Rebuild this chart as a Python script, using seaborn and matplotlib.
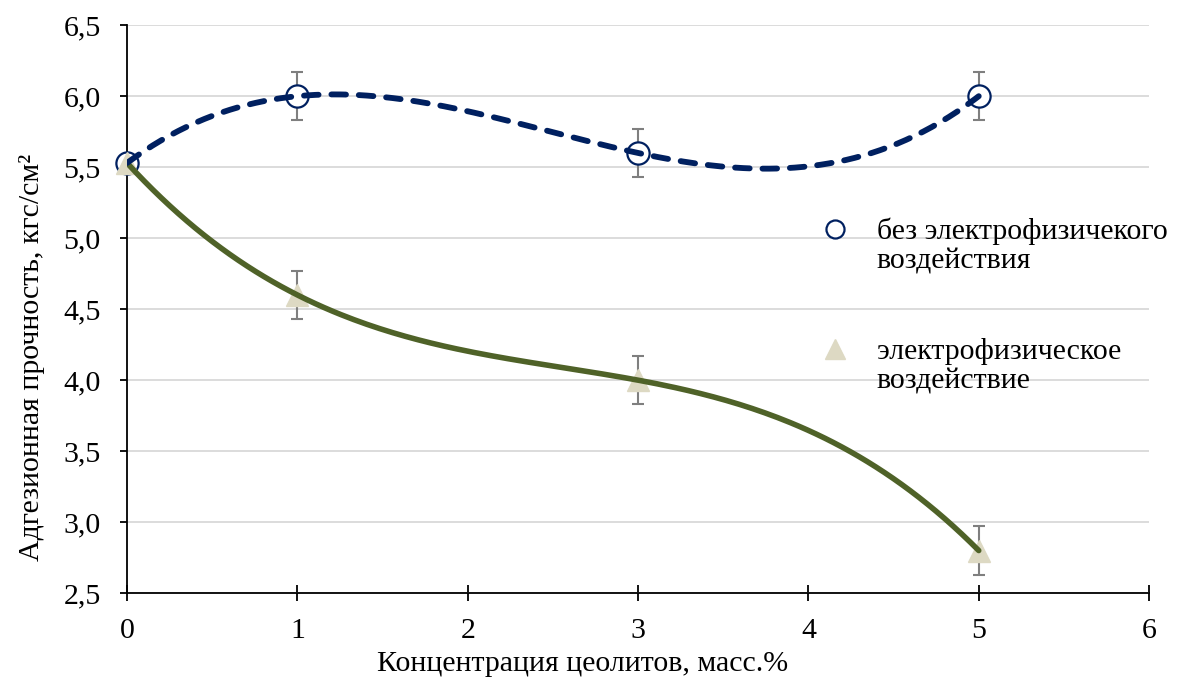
import numpy as np
import pandas as pd
import matplotlib
matplotlib.use('Agg')
import matplotlib.pyplot as plt
import seaborn as sns
from matplotlib.lines import Line2D
from matplotlib.legend_handler import HandlerLine2D
from matplotlib.ticker import FuncFormatter

# Данные
konc = [0, 1, 3, 5]
bez_vozd = [5.53, 6.0, 5.6, 6.0]
s_vozd = [5.53, 4.6, 4.0, 2.8]
oshibka = [0.17, 0.17, 0.17]   # для точек 1, 3, 5 (у нуля планок нет)
nazvaniya = ['без электрофизичекого\nвоздействия', 'электрофизическое\nвоздействие']

sns.set_style('white')
plt.rcParams['font.family'] = ['Liberation Serif', 'DejaVu Serif']
plt.rcParams['text.color'] = 'black'
plt.rcParams['axes.labelcolor'] = 'black'
plt.rcParams['xtick.color'] = 'black'
plt.rcParams['ytick.color'] = 'black'
FS = 21.5

fig = plt.figure(figsize=(11.93, 6.81), dpi=100)
ax = fig.add_axes([0.1065, 0.129, 0.8567, 0.834])

# Линии тренда (полином 3-й степени, как в Excel)
xs = np.linspace(0, 5, 200)
tr1 = np.polyval(np.polyfit(konc, bez_vozd, 3), xs)
tr2 = np.polyval(np.polyfit(konc, s_vozd, 3), xs)
df_tr = pd.DataFrame({'x': np.concatenate([xs, xs]),
                      'y': np.concatenate([tr1, tr2]),
                      'ser': ['a'] * len(xs) + ['b'] * len(xs)})

ax.grid(axis='y', color='#d9d9d9', linewidth=1.3, zorder=0)

# планки погрешностей
ax.errorbar(konc[1:], bez_vozd[1:], yerr=oshibka, fmt='none', ecolor='#7f7f7f',
            elinewidth=1.5, capsize=4.5, capthick=1.5, zorder=2)
ax.errorbar(konc[1:], s_vozd[1:], yerr=oshibka, fmt='none', ecolor='#7f7f7f',
            elinewidth=1.5, capsize=4.5, capthick=1.5, zorder=2)

# маркеры
ax.plot(konc, bez_vozd, linestyle='none', marker='o', markersize=16,
        markerfacecolor='white', markeredgecolor='#002060', markeredgewidth=1.6,
        zorder=3, clip_on=False)
ax.plot(konc, s_vozd, linestyle='none', marker='^', markersize=16.5,
        color='#ddd9c3', markeredgecolor='#ddd9c3', zorder=3, clip_on=False)

sns.lineplot(data=df_tr[df_tr.ser == 'b'], x='x', y='y', color='#4f6228',
             linewidth=4, ax=ax, zorder=4, legend=False)
sns.lineplot(data=df_tr[df_tr.ser == 'a'], x='x', y='y', color='#002060',
             linewidth=4.2, ax=ax, zorder=5, legend=False)
ax.lines[-1].set_dashes([2.5, 2.2])
ax.lines[-1].set_dash_capstyle('round')

ax.set_xlim(0, 6)
ax.set_ylim(2.5, 6.5)
ax.set_xticks(range(0, 7))
ax.set_yticks(np.arange(2.5, 6.51, 0.5))
ax.yaxis.set_major_formatter(FuncFormatter(lambda v, p: f'{v:.1f}'.replace('.', ',')))

for s in ['top', 'right']:
    ax.spines[s].set_visible(False)
for s in ['left', 'bottom']:
    ax.spines[s].set_color('black')
    ax.spines[s].set_linewidth(1.3)

ax.tick_params(axis='y', direction='out', length=5, width=1.3, labelsize=FS, pad=14,
               left=True, colors='black')
ax.tick_params(axis='x', direction='inout', length=12, width=1.3, labelsize=FS, pad=12,
               bottom=True, colors='black')

ax.set_xlabel('Концентрация цеолитов, масс.%', fontsize=FS, color='black')
ax.set_ylabel('Адгезионная прочность, кгс/см²', fontsize=FS, color='black')
ax.xaxis.set_label_coords(0.446, -0.102)
ax.yaxis.set_label_coords(-0.080, 0.415)

# легенда: маркер на уровне первой строки
def sdvig(h, orig):
    h.update_from(orig)
    h.set_ydata(np.asarray(h.get_ydata()) + 12)

h1 = Line2D([], [], linestyle='none', marker='o', markersize=13,
            markerfacecolor='white', markeredgecolor='#002060', markeredgewidth=1.6)
h2 = Line2D([], [], linestyle='none', marker='^', markersize=14,
            color='#ddd9c3')
leg = ax.legend([h1, h2], nazvaniya, loc='upper left', bbox_to_anchor=(0.643, 0.709),
                frameon=False, fontsize=FS, labelspacing=2.1, handletextpad=0.6,
                handlelength=1.6, labelcolor='black',
                handler_map={Line2D: HandlerLine2D(update_func=sdvig)})

fig.savefig('out.png', dpi=100)
